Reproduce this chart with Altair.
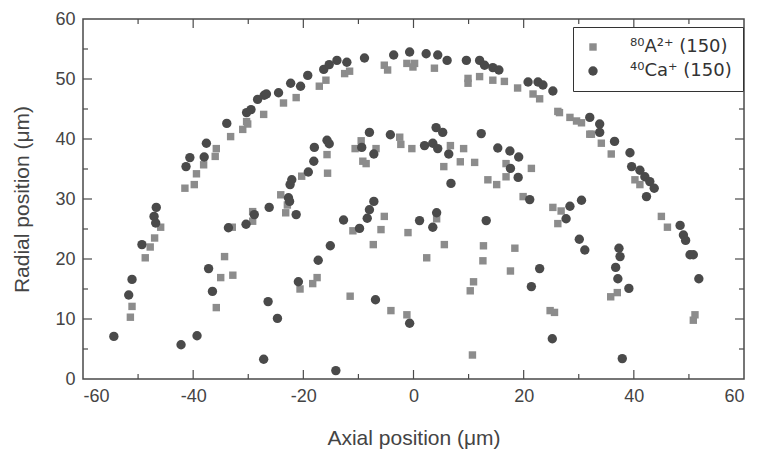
import altair as alt
import pandas as pd

# 40Ca+ (circles)
ca_x = [-54.4, -51.7, -51.1, -49.3, -47.1, -46.8, -46.7, -41.3, -40.6, -38.0, -37.6, -33.9, -30.3,
        -29.5, -28.3, -27.1, -26.7, -24.5, -22.3, -20.5, -19.2, -16.3, -15.3, -13.9, -12.1, -8.9,
        -3.6, -0.7, 2.3, 4.4, 6.1, 9.6, 12.0, 12.9, 14.4, 15.5, 20.8, 22.6, 23.5, 25.3, 32.0, 33.8,
        33.8, 36.5, 39.3, 39.6, 41.1, 42.0, 42.9, 43.7, 42.3, 48.4, 49.0, 49.4, 50.2, 50.8, 51.8,
        -42.2, -39.3, -37.2, -36.5, -33.6, -30.4, -28.9, -26.2, -27.2, -26.4, -24.7, -22.7, -22.4,
        -22.1, -22.5, -21.3, -20.9, -19.1, -18.1, -18.0, -17.3, -15.7, -15.3, -15.1, -14.1, -12.7,
        -9.8, -9.4, -8.4, -8.0, -8.0, -7.2, -7.2, -6.9, -4.2, -0.7, 1.1, 2.0, 3.5, 3.5, 4.1, 4.2,
        4.4, 5.3, 6.4, 6.8, 12.3, 13.2, 15.3, 17.5, 17.6, 19.0, 19.1, 21.1, 21.4, 22.9, 25.2, 27.7,
        28.4, 30.1, 31.1, 30.5, 36.7, 37.1, 37.3, 37.5, 37.9, 39.1]
ca_y = [7.1, 14.0, 16.6, 22.4, 27.1, 26.0, 28.6, 35.4, 36.9, 37.0, 39.3, 42.6, 44.4,
        44.9, 46.6, 47.3, 47.5, 47.7, 49.3, 48.8, 50.6, 51.6, 52.4, 53.1, 52.8, 53.5,
        54.0, 54.5, 54.2, 54.0, 53.1, 53.1, 53.1, 52.3, 51.9, 51.5, 49.5, 49.5, 49.0, 48.0, 43.6, 42.5,
        41.1, 39.6, 37.7, 35.4, 34.8, 33.7, 32.9, 31.8, 30.4, 25.6, 24.0, 23.1, 20.7, 20.7, 16.7,
        5.7, 7.2, 18.4, 14.6, 25.2, 25.8, 27.4, 28.6, 3.3, 12.9, 10.1, 30.2, 32.4,
        33.2, 29.6, 27.4, 16.2, 34.5, 36.3, 38.6, 19.8, 39.8, 39.2, 22.2, 1.4, 26.5,
        25.1, 38.6, 26.8, 28.2, 41.1, 29.6, 37.5, 13.2, 40.7, 9.3, 26.4, 38.9, 39.3, 25.3, 41.9, 27.7,
        38.4, 41.1, 37.5, 32.6, 40.9, 26.4, 38.5, 38.0, 35.1, 33.6, 37.0, 29.9, 15.4, 18.4, 6.7, 26.7,
        28.8, 23.3, 21.5, 29.8, 18.6, 16.7, 21.8, 20.4, 3.4, 15.1]

# 80A2+ (squares)
a_x = [-51.4, -51.1, -48.7, -47.8, -47.0, -45.9, -41.5, -39.8, -39.4, -38.1, -36.0, -35.8, -33.2,
       -31.0, -30.3, -30.1, -27.2, -23.6, -21.3, -17.1, -15.9, -12.5, -11.6, -5.3, -4.7, -1.2, -0.1,
       0.2, 3.8, 9.9, 9.9, 12.0, 14.4, 16.5, 18.9, 21.7, 22.9, 26.2, 26.5, 28.4, 29.6, 30.5, 32.3,
       32.0, 34.1, 35.9, 40.2, 41.1, 45.0, 46.1, 51.1, 50.8,
       -35.8, -35.0, -34.3, -32.8, -32.9, -29.2, -29.2, -24.1, -23.2, -22.9, -20.6, -20.3, -18.3,
       -17.5, -15.7, -15.6, -11.5, -11.0, -10.6, -9.5, -9.2, -8.6, -7.3, -6.8, -5.9, -5.3, -4.1,
       -2.5, -2.3, -1.2, -1.0, -0.3, 2.4, 4.2, 5.5, 5.6, 6.7, 8.5, 9.1, 10.3, 10.7, 10.9, 11.1,
       12.6, 12.7, 13.5, 15.1, 16.8, 16.8, 17.6, 18.4, 19.9, 21.4, 24.8, 25.6, 25.3, 26.2, 26.8,
       35.8, 37.0]
a_y = [10.3, 12.1, 20.2, 22.0, 23.5, 25.3, 31.8, 32.4, 34.2, 35.7, 37.1, 38.4, 40.4,
       41.6, 42.9, 42.5, 44.1, 46.0, 46.9, 48.8, 49.8, 50.9, 51.3, 52.3, 51.5, 52.6, 52.0,
       52.6, 51.8, 50.1, 49.3, 50.4, 49.8, 49.6, 48.5, 47.5, 46.7, 44.6, 44.4, 43.6, 43.0, 42.7, 40.8,
       40.8, 39.3, 37.5, 33.2, 32.4, 27.1, 25.3, 10.7, 9.8,
       11.9, 16.9, 20.4, 17.3, 25.3, 27.9, 26.3, 30.7, 27.7, 29.0, 15.0, 33.8, 15.9,
       16.9, 37.4, 34.3, 13.8, 24.7, 38.4, 39.7, 36.3, 35.9, 22.4, 38.4, 24.9, 27.1, 11.4,
       40.3, 39.1, 10.7, 24.4, 38.4, 20.2, 26.7, 35.4, 22.4, 38.9, 36.2, 38.4, 14.7, 4.0, 16.2, 36.1,
       19.7, 22.2, 33.2, 32.4, 35.9, 33.7, 18.0, 21.8, 30.4, 35.1, 11.4, 11.1, 28.6, 25.9, 28.0,
       13.7, 14.4]

series_names = ["\u2078\u2070A\u00b2\u207a (150)", "\u2074\u2070Ca\u207a (150)"]
x_ticks = [-60, -40, -20, 0, 20, 40, 60]
y_ticks = [0, 10, 20, 30, 40, 50, 60]
x_major = [-40, -20, 0, 20, 40]
x_minor = [-50, -30, -10, 10, 30, 50]
y_major = [10, 20, 30, 40, 50]
y_minor = [5, 15, 25, 35, 45, 55]

df = pd.concat([
    pd.DataFrame({"x": a_x, "y": a_y, "s": series_names[0]}),
    pd.DataFrame({"x": ca_x, "y": ca_y, "s": series_names[1]}),
])

W, H = 661, 360
FONT = "Liberation Sans"
AX = "#4a4a4a"

xs = alt.Scale(domain=[-60, 60], nice=False)
ys = alt.Scale(domain=[0, 60], nice=False)

leg = alt.Legend(title=None, orient="none", legendX=490, legendY=8,
                 fillColor="white", strokeColor="#333", padding=11,
                 labelFontSize=18, labelFont="DejaVu Sans", labelColor="#333",
                 symbolSize=70, rowPadding=6, labelOffset=28,
                 symbolStrokeWidth=0)

points = alt.Chart(df).mark_point(filled=True, opacity=1).encode(
    x=alt.X("x:Q", scale=xs, title="Axial position (\u03bcm)",
            axis=alt.Axis(values=x_ticks, tickSize=0, domain=False, grid=False, labelPadding=8,
                          labelExpr="replace(datum.label, '\u2212', '-')")),
    y=alt.Y("y:Q", scale=ys, title="Radial position (\u03bcm)",
            axis=alt.Axis(values=y_ticks, tickSize=0, domain=False, grid=False, labelPadding=8)),
    shape=alt.Shape("s:N", scale=alt.Scale(domain=series_names, range=["square", "circle"]),
                    legend=leg),
    color=alt.Color("s:N", scale=alt.Scale(domain=series_names, range=["#8c8c8c", "#4a4a4a"]),
                    legend=leg),
    size=alt.Size("s:N", scale=alt.Scale(domain=series_names, range=[55, 88]), legend=leg),
)

def xt(vals, length):
    d = pd.DataFrame({"v": vals})
    b = alt.Chart(d).mark_rule(color=AX, strokeWidth=1.2).encode(
        x=alt.X("v:Q", scale=xs), y=alt.value(H), y2=alt.value(H - length))
    t = alt.Chart(d).mark_rule(color=AX, strokeWidth=1.2).encode(
        x=alt.X("v:Q", scale=xs), y=alt.value(0), y2=alt.value(length))
    return b + t

def yt(vals, length):
    d = pd.DataFrame({"v": vals})
    l = alt.Chart(d).mark_rule(color=AX, strokeWidth=1.2).encode(
        y=alt.Y("v:Q", scale=ys), x=alt.value(0), x2=alt.value(length))
    r = alt.Chart(d).mark_rule(color=AX, strokeWidth=1.2).encode(
        y=alt.Y("v:Q", scale=ys), x=alt.value(W), x2=alt.value(W - length))
    return l + r

chart = alt.layer(
    xt(x_major, 9), xt(x_minor, 5), yt(y_major, 9), yt(y_minor, 5), points
).properties(
    width=W, height=H,
    autosize=alt.AutoSizeParams(type="none"),
    padding={"left": 75, "top": 11, "right": 5, "bottom": 70},
).configure_view(
    stroke=AX, strokeWidth=1.5
).configure_axis(
    labelFont=FONT, titleFont=FONT, labelFontSize=18, titleFontSize=21,
    labelColor="#444", titleColor="#444", titleFontWeight="normal"
).configure_axisX(titlePadding=22).configure_axisY(titlePadding=22)

chart.save("out.html", embed_options={"renderer": "svg", "actions": False})
